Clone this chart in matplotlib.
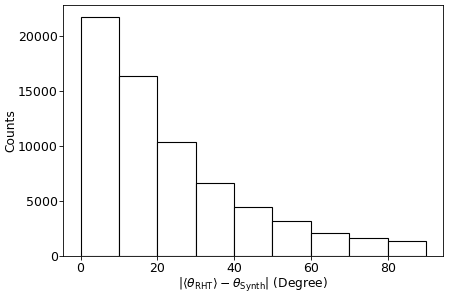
import numpy as np
import matplotlib
matplotlib.use("Agg")
from matplotlib import pyplot as plt

bin_edges = [0, 10, 20, 30, 40, 50, 60, 70, 80, 90]
counts = [21700, 16380, 10320, 6600, 4430, 3140, 2110, 1660, 1390]

fig = plt.figure(figsize=(4.49, 2.96), dpi=100)
ax = fig.add_axes([0.141, 0.1351, 0.8463, 0.848])

ax.hist(bin_edges[:-1], bins=bin_edges, weights=counts,
        facecolor="white", edgecolor="black", linewidth=0.8)

for sp in ax.spines.values():
    sp.set_linewidth(0.6)

ax.set_xticks([0, 20, 40, 60, 80])
ax.set_yticks([0, 5000, 10000, 15000, 20000])
ax.tick_params(labelsize=9, length=3.2, width=0.6)
ax.tick_params(axis="x", pad=1)
ax.tick_params(axis="y", pad=0.8)
ax.set_ylabel("Counts", fontsize=8.8, labelpad=0.5)
ax.set_xlabel(r"$|\langle\theta_{\rm RHT}\rangle - \theta_{\rm Synth}|$ (Degree)", fontsize=8.8, labelpad=0.8)

fig.savefig("out.png", dpi=100)
